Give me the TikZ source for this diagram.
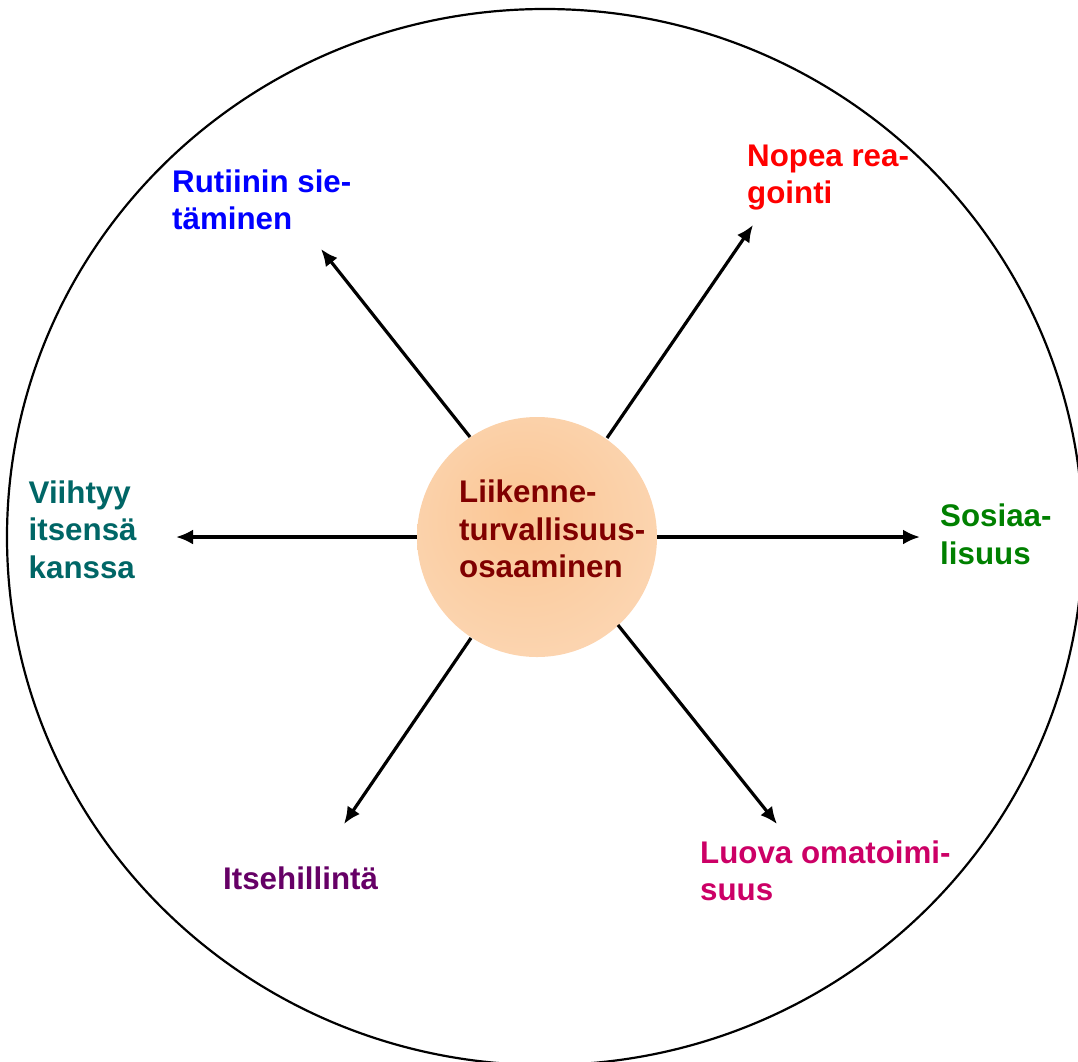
\documentclass[tikz,border=0pt]{standalone}
\usepackage{fontspec}
\setmainfont{Liberation Sans}[BoldFont={Liberation Sans Bold}]
\usetikzlibrary{arrows.meta}
\definecolor{cblue}{RGB}{0,0,255}
\definecolor{cred}{RGB}{255,0,0}
\definecolor{cteal}{RGB}{0,102,102}
\definecolor{cgreen}{RGB}{0,128,0}
\definecolor{cpurple}{RGB}{102,0,102}
\definecolor{cmagenta}{RGB}{204,0,102}
\definecolor{cdred}{RGB}{128,0,0}
\definecolor{pin}{RGB}{251,198,148}
\definecolor{pout}{RGB}{252,224,198}
\pgfdeclareradialshading{peach}{\pgfpoint{-4bp}{6bp}}{color(0bp)=(pin); color(50bp)=(pout)}
\begin{document}
\begin{tikzpicture}[x=1pt,y=-1pt,
  lbl/.style={anchor=base west, align=left, inner sep=0pt, font=\fontsize{31.3}{37.5}\selectfont\bfseries},
  arr/.style={line width=3.2pt, -{Latex[length=17pt,width=15pt]}}]
\useasboundingbox (0,0) rectangle (1078,1061);
\draw[line width=2.2pt] (545,537) ellipse [x radius=538, y radius=528];
\node[circle, minimum size=240pt, inner sep=0pt, shading=peach] (hub) at (537,537) {};
\node[lbl, text=cdred] (hubtxt) at (459,577.5) {Liikenne-\\turvallisuus-\\osaaminen};
\node[lbl, text=cblue] (rut) at (172,229.5) {Rutiinin sie-\\täminen};
\node[lbl, text=cred] (nop) at (747,203.5) {Nopea rea-\\gointi};
\node[lbl, text=cteal] (vii) at (28.5,578) {Viihtyy\\itsensä\\kanssa};
\node[lbl, text=cgreen] (sos) at (940,564) {Sosiaa-\\lisuus};
\node[lbl, text=cpurple] (its) at (223,889.3) {Itsehillintä};
\node[lbl, text=cmagenta] (luo) at (700,900.5) {Luova omatoimi-\\suus};
\coordinate (a1s) at (470,437); \coordinate (a1e) at (321,249);
\coordinate (a2s) at (607,438); \coordinate (a2e) at (753,225);
\coordinate (a3s) at (417,537); \coordinate (a3e) at (176,537);
\coordinate (a4s) at (657,537); \coordinate (a4e) at (920,537);
\coordinate (a5s) at (471,638); \coordinate (a5e) at (344,824);
\coordinate (a6s) at (618,625); \coordinate (a6e) at (777,824);
\draw[arr] (a1s) -- (a1e);
\draw[arr] (a2s) -- (a2e);
\draw[arr] (a3s) -- (a3e);
\draw[arr] (a4s) -- (a4e);
\draw[arr] (a5s) -- (a5e);
\draw[arr] (a6s) -- (a6e);
\end{tikzpicture}
\end{document}
